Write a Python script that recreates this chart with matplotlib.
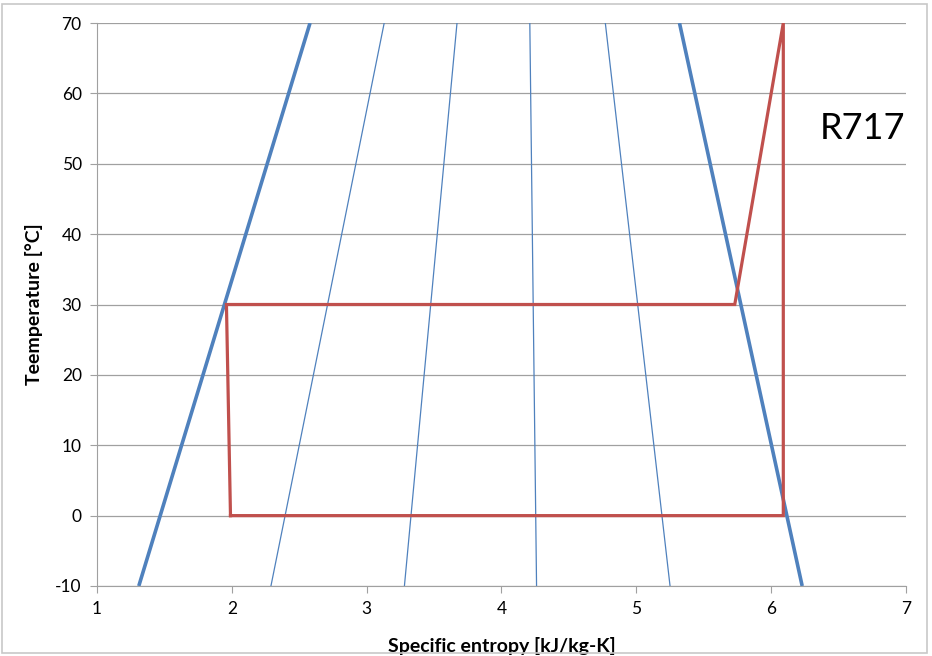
import matplotlib
matplotlib.use('Agg')
import matplotlib.pyplot as plt
from matplotlib.patches import Rectangle

plt.rcParams['font.family'] = ['Lato', 'DejaVu Sans']
plt.rcParams['axes.unicode_minus'] = False

# saturation dome (entropy at -10 C and 70 C)
temps = [-10, 70]
liquid_s = [1.31, 2.58]
vapor_s = [6.23, 5.32]
# constant-quality lines in between
quality_lines = [
    [2.29, 3.13],
    [3.28, 3.67],
    [4.26, 4.21],
    [5.25, 4.77],
]

# refrigeration cycle
cycle_s = [1.99, 1.96, 5.73, 6.09, 6.09, 1.99]
cycle_t = [0, 30, 30, 70, 0, 0]

blue = '#4F81BD'
red = '#C0504D'
grid_c = '#A0A0A0'

fig = plt.figure(figsize=(9.32, 6.56), dpi=100)
ax = fig.add_axes([97 / 932, 1 - 586 / 656, (906 - 97) / 932, (586 - 23) / 656])

ax.plot(liquid_s, temps, color=blue, lw=2.6, solid_capstyle='butt')
ax.plot(vapor_s, temps, color=blue, lw=2.6, solid_capstyle='butt')
for s in quality_lines:
    ax.plot(s, temps, color=blue, lw=0.9)
ax.plot(cycle_s, cycle_t, color=red, lw=2.3, solid_joinstyle='miter')

ax.text(6.68, 55, 'R717', fontsize=26, ha='center', va='center')

ax.set_xlim(1, 7)
ax.set_ylim(-10, 70)
ax.set_xticks(range(1, 8))
ax.set_yticks(range(-10, 71, 10))
ax.grid(axis='y', color=grid_c, lw=0.9)
ax.set_axisbelow(True)
for side in ['top', 'right']:
    ax.spines[side].set_visible(False)
for side in ['left', 'bottom']:
    ax.spines[side].set_color(grid_c)
ax.tick_params(direction='out', length=5, color=grid_c, labelsize=12.5, pad=6)

ax.set_xlabel('Specific entropy [kJ/kg-K]', fontsize=14, fontweight='bold', labelpad=14)
ax.set_ylabel('Teemperature [°C]', fontsize=14, fontweight='bold', labelpad=9)

fig.patches.append(Rectangle((2 / 932, 3 / 656), 925 / 932, 649 / 656, transform=fig.transFigure,
                             fill=False, edgecolor='#C8C8C8', lw=1.2))

fig.savefig('out.png', dpi=100)
